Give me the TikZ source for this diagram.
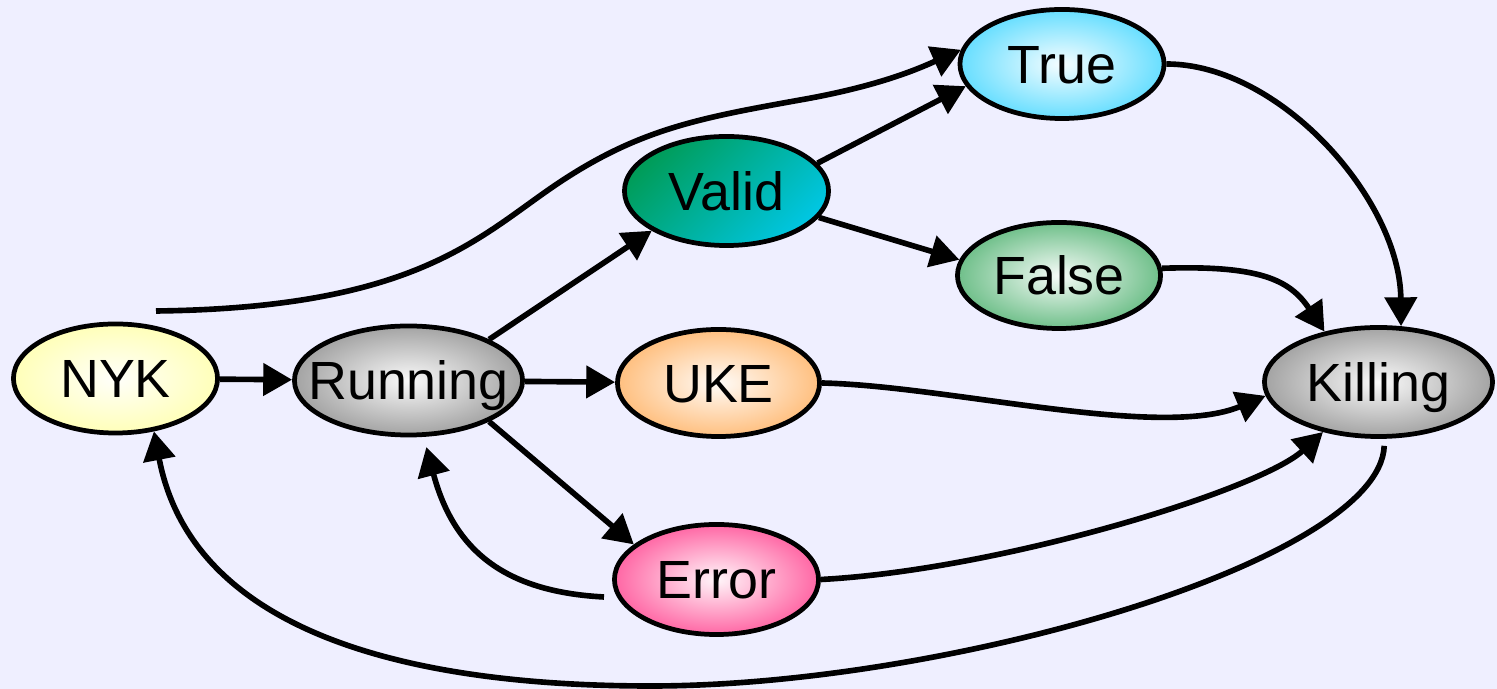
\documentclass[tikz,border=0pt]{standalone}
\usepackage{fontspec}
\setmainfont{Liberation Sans}
\usetikzlibrary{arrows.meta,shapes.geometric}

% palette
\definecolor{bgC}{RGB}{239,239,255}
\definecolor{nykC}{RGB}{255,255,150}
\definecolor{grayC}{RGB}{118,118,118}
\definecolor{trueC}{RGB}{28,206,255}
\definecolor{falseC}{RGB}{40,160,80}
\definecolor{ukeC}{RGB}{255,160,64}
\definecolor{errorC}{RGB}{255,28,120}
\definecolor{validA}{RGB}{0,156,88}
\definecolor{validB}{RGB}{0,198,226}

% radial fill: near-white centre fading to the state colour at the rim
\newcommand\stateshade[2]{%
  \pgfdeclareradialshading{#1}{\pgfpoint{0bp}{0bp}}{%
    color(0bp)=(#2!4!white);color(38bp)=(#2);color(50bp)=(#2)}}
\stateshade{nykshade}{nykC}
\stateshade{grayshade}{grayC}
\stateshade{trueshade}{trueC}
\stateshade{falseshade}{falseC}
\stateshade{ukeshade}{ukeC}
\stateshade{errorshade}{errorC}

% label that never widens its ellipse
\newcommand\statelabel[1]{\makebox[0pt]{#1}}

\begin{document}
\begin{tikzpicture}[x=0.01cm,y=-0.01cm,
  state/.style={ellipse, draw=black, line width=1.35pt, inner sep=0pt,
    minimum width=2.04cm, minimum height=1.09cm, shade,
    font=\fontsize{15.3pt}{18pt}\selectfont,
    text height=10.9pt, text depth=0pt},
  widestate/.style={state, minimum width=2.28cm},
  edge/.style={line width=1.6pt, -{Triangle[length=8.2pt,width=9pt]}}
]
\useasboundingbox[fill=bgC] (0,0) rectangle (1497,689);

% states
\node[state, shading=nykshade]        (nyk)        at (115.5,378.5) {\statelabel{NYK}};
\node[widestate, shading=grayshade]   (running)    at (408.5,380.5) {\statelabel{Running}};
\node[state, top color=validA, bottom color=validB, shading angle=45]
                                      (valid)      at (726.5,191)   {\statelabel{Valid}};
\node[state, shading=trueshade]       (truestate)  at (1062,64)     {\statelabel{True}};
\node[state, shading=falseshade, minimum width=2.03cm, minimum height=1.06cm]
                                      (falsestate) at (1059,275.5)  {\statelabel{False}};
\node[state, shading=ukeshade, minimum width=2.02cm, minimum height=1.07cm]
                                      (uke)        at (718.5,383)   {\statelabel{UKE}};
\node[state, shading=errorshade, minimum height=1.1cm]
                                      (error)      at (716.5,579.5) {\statelabel{Error}};
\node[widestate, shading=grayshade]   (killing)    at (1378.5,382)  {\statelabel{Killing}};

% loose tails of two curved transitions
\coordinate (nyktail) at (156,311);
\coordinate (errtail) at (604,597);

% straight transitions
\draw[edge] (nyk) -- (running);
\draw[edge] (running.27) -- (valid.208);
\draw[edge] (running) -- (uke);
\draw[edge] (running.333) -- (error.157);
\draw[edge] (valid.17) -- (truestate.193);
\draw[edge] (valid.-16) -- (falsestate.171);

% curved transitions
\draw[edge] (nyktail) .. controls (420,308) and (480,235) .. (560,182)
  .. controls (640,129) and (700,118) .. (800,100)
  .. controls (880,86) and (920,68) .. (truestate.172);
\draw[edge] (truestate.east) .. controls (1280,64) and (1400,200) .. (killing.68);
\draw[edge] (falsestate.4) .. controls (1260,265) and (1290,280) .. (killing.137);
\draw[edge] (uke.east) .. controls (950,386) and (1160,440) .. (killing.187);
\draw[edge] (error.east) .. controls (1000,570) and (1260,490) .. (killing.222);
\draw[edge, shorten >=3pt] (errtail) .. controls (510,592) and (455,555) .. (running.285);
\draw[edge, shorten <=2pt] (killing.276) .. controls (1380,560) and (950,686) .. (651,686)
  .. controls (380,686) and (190,620) .. (nyk.306);
\end{tikzpicture}
\end{document}
